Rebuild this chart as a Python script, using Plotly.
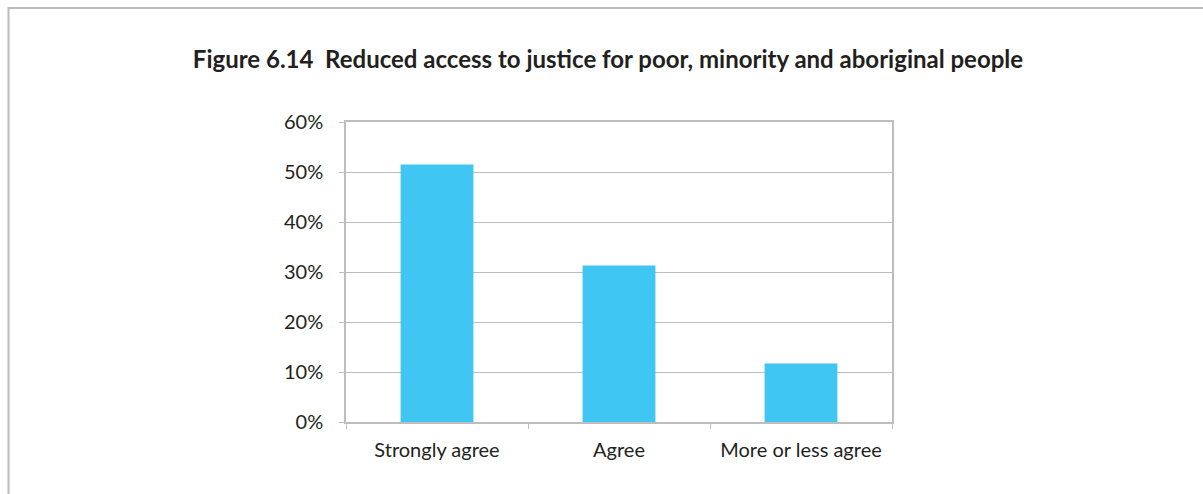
import plotly.graph_objects as go

# Survey responses (share of respondents)
categories = ["Strongly agree", "Agree", "More or less agree"]
shares = [0.515, 0.313, 0.117]
y_ticks = [0, 0.1, 0.2, 0.3, 0.4, 0.5, 0.6]
y_tick_labels = ["0%", "10%", "20%", "30%", "40%", "50%", "60%"]

title_text = "Figure 6.14  Reduced access to justice for poor, minority and aboriginal people"

W, H = 1203, 494
L, R, T, B = 346, 311, 122, 72
pw, ph = W - L - R, H - T - B


def px_x(px):
    return (px - L) / pw


def px_y(py):
    return (H - B - py) / ph


text_col = "#231F20"
grid_col = "#BDBDBD"
font_family = "Lato, 'Open Sans', sans-serif"
tick_size = 20

fig = go.Figure(
    go.Bar(
        x=categories,
        y=shares,
        marker=dict(color="#40C6F2", line=dict(width=0)),
        hoverinfo="x+y",
    )
)

fig.update_layout(
    width=W,
    height=H,
    margin=dict(l=L, r=R, t=T, b=B),
    paper_bgcolor="white",
    plot_bgcolor="white",
    bargap=0.6,
    showlegend=False,
    font=dict(family=font_family, size=tick_size, color=text_col),
    title=dict(
        text="<b>" + title_text + "</b>",
        x=px_x(608),
        xref="paper",
        xanchor="center",
        y=1 - 60 / H,
        yref="container",
        yanchor="middle",
        font=dict(family=font_family, size=24, color=text_col),
    ),
    xaxis=dict(
        type="category",
        tickson="boundaries",
        ticks="outside",
        ticklen=5,
        tickcolor=grid_col,
        showline=True,
        linecolor=grid_col,
        linewidth=1.5,
        mirror=True,
        showgrid=False,
        ticklabelstandoff=9,
        tickfont=dict(size=tick_size, color=text_col),
    ),
    yaxis=dict(
        range=[0, 0.6],
        tickvals=y_ticks,
        ticktext=y_tick_labels,
        ticks="outside",
        ticklen=5,
        tickcolor=grid_col,
        showline=True,
        linecolor=grid_col,
        linewidth=1.5,
        mirror=True,
        showgrid=True,
        gridcolor=grid_col,
        gridwidth=1.3,
        zeroline=False,
        ticklabelstandoff=12,
        tickfont=dict(size=tick_size, color=text_col),
    ),
    shapes=[
        # frame around the figure panel (left and top edges)
        dict(
            type="path",
            xref="paper",
            yref="paper",
            path=f"M {px_x(8.5)} {px_y(H + 10)} L {px_x(8.5)} {px_y(8)} L {px_x(W + 10)} {px_y(8)}",
            line=dict(color="#BBBBBB", width=2),
            layer="below",
        )
    ],
)

fig.write_html("out.html")
